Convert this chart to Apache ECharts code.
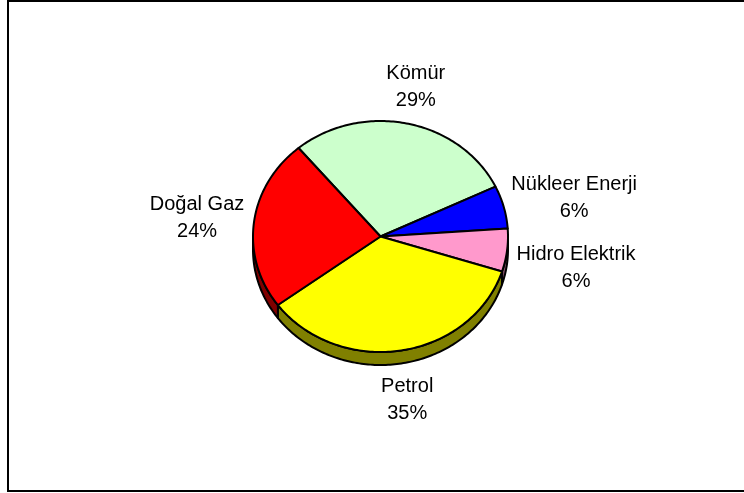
<!DOCTYPE html>
<html lang="tr">
<head>
    <meta charset="UTF-8">
    <title>Enerji Kaynakları</title>
    <script src="https://cdn.jsdelivr.net/npm/echarts@6/dist/echarts.min.js"></script>
    <style>
        html, body { margin: 0; padding: 0; background: #fff; }
        #chart { width: 744px; height: 493px; }
    </style>
</head>
<body>
    <div id="chart"></div>
    <script>
        // slices in clockwise order, starting at the upper-left edge of Kömür
        var names = ['Kömür', 'Nükleer Enerji', 'Hidro Elektrik', 'Petrol', 'Doğal Gaz'];
        var values = [29, 6, 6, 35, 24];
        var colors = ['#CCFFCC', '#0000FF', '#FF99CC', '#FFFF00', '#FF0000'];

        var startAngle = -40;   // degrees, clockwise from top
        var cx = 380.5, cy = 236.5;
        var rx = 127.5, ry = 115.5;
        var depth = 13;
        var fontSize = 20, lineH = 27;
        var font = fontSize + 'px "Liberation Sans", Arial, sans-serif';

        var total = values.reduce(function (a, b) { return a + b; }, 0);
        var starts = [];
        var acc = startAngle;
        for (var i = 0; i < values.length; i++) {
            starts.push(acc);
            acc += values[i] / total * 360;
        }

        function pt(deg, dy) {
            var r = deg * Math.PI / 180;
            return [cx + rx * Math.sin(r), cy - ry * Math.cos(r) + (dy || 0)];
        }

        function darker(hex) {
            var n = parseInt(hex.slice(1), 16);
            var r = (n >> 16) & 255, g = (n >> 8) & 255, b = n & 255;
            return 'rgb(' + Math.round(r / 2) + ',' + Math.round(g / 2) + ',' + Math.round(b / 2) + ')';
        }

        function arc(a0, a1, dy) {
            var pts = [];
            var steps = Math.max(2, Math.ceil(Math.abs(a1 - a0)));
            for (var k = 0; k <= steps; k++) {
                pts.push(pt(a0 + (a1 - a0) * k / steps, dy));
            }
            return pts;
        }

        var ctx = document.createElement('canvas').getContext('2d');
        function measure(t) {
            ctx.font = font;
            return ctx.measureText(t).width;
        }

        function renderItem(params, api) {
            var idx = params.dataIndex;
            var v = api.value(0);
            var a0 = starts[idx];
            var a1 = a0 + v / total * 360;
            var children = [];

            // visible outer wall (front half: 90..270 deg)
            var s0 = Math.max(a0, 90), s1 = Math.min(a1, 270);
            if (s1 > s0) {
                children.push({
                    type: 'polygon',
                    shape: { points: arc(s0, s1, 0).concat(arc(s1, s0, depth)) },
                    style: { fill: darker(colors[idx]), stroke: '#000', lineWidth: 2, lineJoin: 'round' }
                });
            }

            // top face
            children.push({
                type: 'polygon',
                shape: { points: [[cx, cy]].concat(arc(a0, a1, 0)) },
                style: { fill: colors[idx], stroke: '#000', lineWidth: 2, lineJoin: 'round' }
            });

            // label outside the slice, along its middle angle
            var mid = (a0 + a1) / 2;
            var r = mid * Math.PI / 180;
            var dx = Math.sin(r), dyv = -Math.cos(r);
            var edge = pt(mid, dyv > 0 ? depth : 0);
            var halfW = measure(names[idx]) / 2;
            var gap = 10;
            children.push({
                type: 'text',
                style: {
                    text: names[idx] + '\n' + Math.round(v / total * 100) + '%',
                    x: edge[0] + dx * (halfW + gap),
                    y: edge[1] + dyv * (lineH + gap),
                    align: 'center',
                    verticalAlign: 'middle',
                    fill: '#000',
                    font: font,
                    lineHeight: lineH
                }
            });

            return { type: 'group', children: children };
        }

        var chart = echarts.init(document.getElementById('chart'), null, { renderer: 'canvas' });
        chart.setOption({
            animation: false,
            backgroundColor: '#fff',
            graphic: [{
                type: 'rect',
                shape: { x: 8, y: 1, width: 800, height: 490 },
                style: { fill: 'none', stroke: '#000', lineWidth: 2 },
                silent: true
            }],
            series: [{
                type: 'custom',
                coordinateSystem: 'none',
                renderItem: renderItem,
                data: values.map(function (v, i) { return { name: names[i], value: [v] }; })
            }]
        });
    </script>
</body>
</html>
